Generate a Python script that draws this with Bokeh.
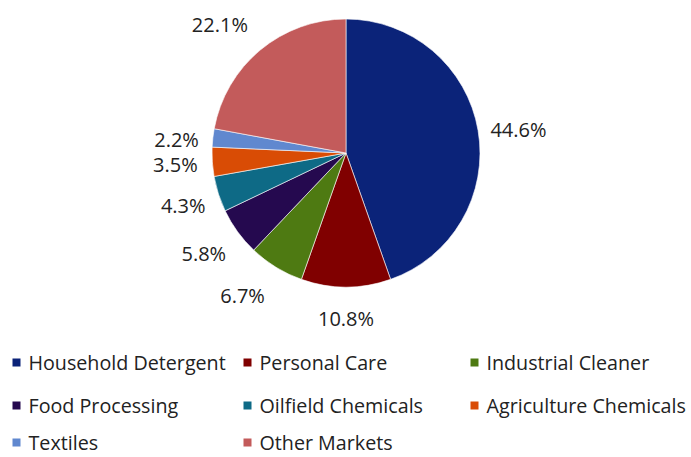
import math
from bokeh.plotting import figure
from bokeh.models import Range1d, ColumnDataSource
from bokeh.core.properties import value
from bokeh.embed import file_html
from bokeh.resources import INLINE

categories = ["Household Detergent", "Personal Care", "Industrial Cleaner",
              "Food Processing", "Oilfield Chemicals", "Agriculture Chemicals",
              "Textiles", "Other Markets"]
shares = [44.6, 10.8, 6.7, 5.8, 4.3, 3.5, 2.2, 22.1]
colors = ["#0B2379", "#800000", "#4E7A12", "#25094F",
          "#0E6A86", "#D94C05", "#6088CF", "#C35B5B"]

# label placement style (distance from centre in px, angular nudge in degrees clockwise)
label_dist = [174, 165, 176, 174, 171, 171, 170, 180]
label_nudge = [2, 0, 4.5, 0.8, 0, 0, -2, -4.7]

W, H = 691, 457
p = figure(width=W, height=H, x_range=Range1d(0, W), y_range=Range1d(0, H),
           output_backend="svg", toolbar_location=None, min_border=0)
p.axis.visible = False
p.grid.visible = False
p.outline_line_color = None

cx, cy, r = 345.5, H - 152.5, 134
total = sum(shares)
starts, ends, lx, ly, labels = [], [], [], [], []
cum = 0.0
for s, d, n in zip(shares, label_dist, label_nudge):
    a0 = math.pi / 2 - 2 * math.pi * (cum + s) / total
    a1 = math.pi / 2 - 2 * math.pi * cum / total
    starts.append(a0)
    ends.append(a1)
    mid = (a0 + a1) / 2 - math.radians(n)
    lx.append(cx + d * math.cos(mid))
    ly.append(cy + d * math.sin(mid))
    labels.append(f"{s:.1f}%")
    cum += s

src = ColumnDataSource(dict(start=starts, end=ends, color=colors))
p.wedge(x=cx, y=cy, radius=r, radius_units="screen", start_angle="start",
        end_angle="end", fill_color="color", line_color="white", line_width=0.6,
        source=src)

p.text(x=lx, y=ly, text=labels, text_align="center", text_baseline="middle",
       text_font=value("Open Sans"), text_font_size="20px", text_color="#222222")

# legend: 3 columns x 3 rows
col_x = [12, 243, 470]
row_y = [H - 362, H - 405, H - 442]
mx, my, tx, ty, tt, mc = [], [], [], [], [], []
for i, (name, c) in enumerate(zip(categories, colors)):
    col, row = i % 3, i // 3
    mx.append(col_x[col] + 4)
    my.append(row_y[row])
    tx.append(col_x[col] + 16)
    ty.append(row_y[row])
    tt.append(name)
    mc.append(c)
p.scatter(x=mx, y=my, marker="square", size=8, fill_color=mc, line_color=None)
p.text(x=tx, y=ty, text=tt, text_align="left", text_baseline="middle",
       text_font=value("Open Sans"), text_font_size="19.7px", text_color="#222222")

open("out.html", "w").write(file_html(p, INLINE))
